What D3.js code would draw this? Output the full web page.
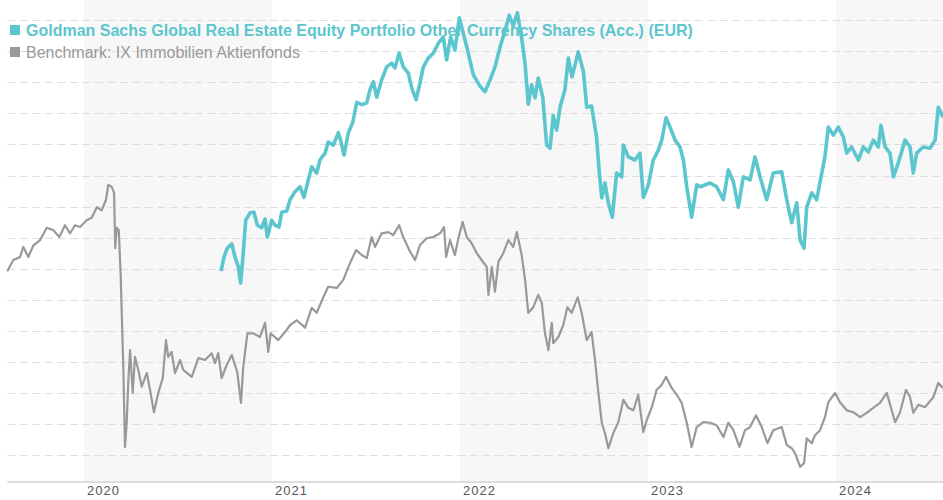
<!DOCTYPE html>
<html lang="de">
<head>
<meta charset="UTF-8">
<title>Goldman Sachs Global Real Estate Equity Portfolio vs Benchmark</title>
<script src="https://d3js.org/d3.v7.min.js"></script>
<style>
  body { margin: 0; background: #fff; font-family: "Liberation Sans", Arial, sans-serif; }
  svg { display: block; }
  .grid line { stroke: #dedede; stroke-dasharray: 8,4.5; }
  .xaxis text { fill: #555; font-size: 13px; letter-spacing: 1px; }
</style>
</head>
<body>
<svg id="chart" width="943" height="500"></svg>
<script>
// decimal years
const benchT = [
  2019.592,2019.624,2019.660,2019.677,2019.704,2019.730,2019.766,2019.802,2019.837,2019.869,2019.899,2019.926,2019.952,2019.979,
  2020.014,2020.041,2020.068,2020.094,2020.117,2020.129,2020.147,2020.160,2020.166,2020.174,2020.185,2020.195,2020.209,2020.218,2020.227,2020.236,2020.245,2020.259,2020.271,2020.289,2020.307,2020.334,2020.351,2020.372,2020.395,2020.419,2020.436,2020.448,2020.466,2020.484,2020.511,2020.528,2020.573,2020.608,2020.644,2020.679,2020.697,2020.714,2020.732,2020.759,2020.786,2020.815,2020.835,2020.847,2020.869,2020.901,2020.936,2020.963,2020.980,2020.993,
  2021.033,2021.069,2021.096,2021.131,2021.166,2021.176,2021.211,2021.238,2021.273,2021.299,2021.344,2021.379,2021.415,2021.447,2021.477,2021.504,2021.530,2021.548,2021.583,2021.619,2021.645,2021.676,2021.698,2021.730,2021.761,2021.787,2021.823,2021.858,2021.894,2021.915,2021.926,2021.947,2021.973,2021.991,
  2022.014,2022.036,2022.062,2022.089,2022.115,2022.142,2022.151,2022.169,2022.186,2022.204,2022.230,2022.257,2022.283,2022.302,2022.328,2022.346,2022.363,2022.390,2022.416,2022.435,2022.452,2022.470,2022.488,2022.496,2022.523,2022.549,2022.571,2022.594,2022.626,2022.647,2022.674,2022.700,2022.718,2022.736,2022.754,2022.771,2022.789,2022.815,2022.842,2022.869,2022.895,2022.922,2022.948,2022.975,2022.993,
  2023.020,2023.046,2023.073,2023.096,2023.126,2023.153,2023.179,2023.206,2023.232,2023.259,2023.294,2023.330,2023.365,2023.401,2023.427,2023.454,2023.486,2023.516,2023.543,2023.574,2023.605,2023.635,2023.666,2023.711,2023.738,2023.764,2023.782,2023.809,2023.830,2023.844,2023.871,2023.888,2023.915,2023.941,2023.959,2023.995,
  2024.021,2024.057,2024.092,2024.128,2024.163,2024.198,2024.234,2024.270,2024.296,2024.314,2024.340,2024.372,2024.394,2024.411,2024.438,2024.473,2024.517,2024.544,2024.569
];
const benchV = [
  109.6,111.4,111.9,113.5,111.9,113.7,114.6,116.6,116.2,115.1,117.0,115.7,117.0,116.7,
  117.8,118.2,119.9,119.4,121.1,123.5,123.2,122.2,113.3,116.6,116.2,109.0,94.2,81.3,85.2,92.1,96.9,90.0,95.8,93.7,91.0,93.2,90.5,86.9,90.0,92.4,98.5,95.8,96.6,93.2,95.3,93.7,92.6,95.6,95.3,96.4,94.8,96.4,92.4,94.5,96.1,93.4,88.4,94.2,99.6,99.6,99.0,101.3,96.6,99.6,
  98.5,99.8,100.9,101.7,100.8,100.5,103.7,102.9,105.4,107.1,106.9,108.2,110.9,113.0,112.2,111.7,115.1,113.5,115.7,115.9,115.4,117.0,115.1,113.0,111.4,113.8,114.9,115.1,115.7,116.7,111.9,114.6,112.2,114.9,
  117.5,115.1,114.1,112.5,111.4,110.3,105.8,110.3,106.3,111.1,112.5,114.6,113.5,115.9,112.2,108.2,102.9,103.8,105.8,104.5,99.6,96.9,101.3,98.0,99.0,100.9,103.8,102.9,105.4,102.9,98.5,99.8,95.3,90.0,85.2,83.5,81.1,83.5,85.3,88.9,87.6,87.2,89.7,83.7,85.6,
  87.7,90.5,91.3,92.6,90.8,89.7,88.4,85.2,81.3,84.5,85.3,85.2,84.8,82.9,85.2,84.0,81.3,84.0,84.5,86.4,84.5,81.9,84.0,84.5,81.6,81.1,80.3,78.1,78.7,82.7,81.9,83.2,84.0,86.1,88.5,90.0,
  88.5,87.2,86.9,86.1,86.8,87.6,88.4,90.0,87.2,85.3,86.8,90.5,89.3,86.8,88.1,87.7,89.3,91.6,90.8
];

const fundT = [
  2020.729,2020.745,2020.762,2020.786,2020.803,2020.821,2020.833,2020.847,2020.860,2020.883,2020.904,2020.922,2020.945,2020.963,2020.975,2020.998,
  2021.016,2021.037,2021.052,2021.078,2021.096,2021.122,2021.149,2021.170,2021.193,2021.211,2021.238,2021.255,2021.282,2021.299,2021.326,2021.353,2021.365,2021.383,2021.406,2021.429,2021.451,2021.477,2021.504,2021.521,2021.539,2021.557,2021.583,2021.610,2021.637,2021.654,2021.676,2021.698,2021.725,2021.743,2021.766,2021.787,2021.805,2021.831,2021.858,2021.885,2021.911,2021.929,2021.950,2021.973,2021.996,
  2022.036,2022.071,2022.106,2022.133,2022.160,2022.186,2022.213,2022.239,2022.262,2022.283,2022.305,2022.328,2022.346,2022.363,2022.381,2022.399,2022.416,2022.440,2022.461,2022.479,2022.496,2022.514,2022.532,2022.558,2022.576,2022.596,2022.629,2022.656,2022.674,2022.700,2022.727,2022.741,2022.754,2022.771,2022.789,2022.810,2022.833,2022.860,2022.869,2022.895,2022.931,2022.957,2022.975,
  2023.002,2023.028,2023.055,2023.073,2023.096,2023.117,2023.144,2023.170,2023.188,2023.206,2023.232,2023.259,2023.277,2023.330,2023.365,2023.401,2023.427,2023.454,2023.480,2023.507,2023.543,2023.569,2023.596,2023.631,2023.666,2023.711,2023.738,2023.764,2023.791,2023.809,2023.830,2023.844,2023.871,2023.897,2023.924,2023.941,2023.959,2023.986,
  2024.012,2024.039,2024.057,2024.083,2024.119,2024.145,2024.172,2024.198,2024.225,2024.239,2024.261,2024.287,2024.305,2024.331,2024.367,2024.394,2024.411,2024.429,2024.464,2024.500,2024.527,2024.544,2024.569
];
const fundV = [
  109.6,111.9,113.3,114.0,111.9,110.3,107.7,112.5,117.8,119.0,119.1,117.0,116.6,118.0,115.1,117.8,
  117.0,116.7,119.1,119.3,121.1,122.4,123.2,121.5,124.3,126.4,125.4,127.5,128.6,130.4,129.9,131.9,130.7,128.3,131.9,133.5,136.8,136.4,136.7,138.8,140.1,137.6,140.4,142.5,143.1,142.3,144.7,142.5,141.5,139.1,137.2,139.9,142.5,143.9,144.7,146.3,147.3,143.6,147.3,145.2,150.4,
  145.7,141.2,139.4,138.5,140.4,142.5,145.7,148.3,150.8,149.1,151.2,147.1,143.0,136.5,139.6,137.5,140.7,137.6,129.9,129.4,134.7,132.3,136.0,138.8,143.9,140.9,144.9,141.8,136.0,136.2,131.0,125.4,121.4,123.8,120.6,118.3,125.4,124.8,129.9,128.0,127.5,128.6,121.5,
  123.5,127.5,129.1,130.7,134.3,132.8,130.7,129.6,127.5,123.2,118.3,123.5,123.2,123.8,123.2,121.1,125.9,124.0,119.9,124.8,124.3,128.0,124.8,121.1,125.4,125.6,121.1,117.4,120.6,114.6,113.3,119.9,122.2,121.1,125.4,128.0,132.8,131.5,
  132.8,131.2,128.6,129.6,127.5,129.6,128.8,130.7,129.6,133.1,129.6,128.6,124.8,127.0,130.7,129.6,125.4,128.6,129.6,129.4,130.7,136.0,134.4
];

const years = [2020, 2021, 2022, 2023, 2024];
const seriesNames = [
  "Goldman Sachs Global Real Estate Equity Portfolio Other Currency Shares (Acc.) (EUR)",
  "Benchmark: IX Immobilien Aktienfonds"
];
const colors = ["#5bc6cd", "#999999"];

const svg = d3.select("#chart");
const plotLeft = 7.3, plotRight = 943, plotTop = 0, plotBottom = 482;

const x = d3.scaleLinear().domain([benchT[0], benchT[benchT.length - 1]]).range([plotLeft, plotRight]);
const y = d3.scaleLinear().domain([75.66, 153.26]).range([plotBottom, plotTop]);

// alternating year bands
svg.append("g").selectAll("rect")
  .data(years.filter((d, i) => i % 2 === 0))
  .join("rect")
  .attr("x", d => x(d))
  .attr("y", plotTop)
  .attr("width", d => Math.min(x(d + 1), plotRight) - x(d))
  .attr("height", plotBottom - plotTop)
  .attr("fill", "#f7f7f7");

// dashed grid
svg.append("g").attr("class", "grid")
  .selectAll("line")
  .data(y.ticks(15))
  .join("line")
  .attr("x1", plotLeft).attr("x2", plotRight)
  .attr("y1", d => Math.round(y(d)) + 0.5)
  .attr("y2", d => Math.round(y(d)) + 0.5);

// x axis
svg.append("line")
  .attr("x1", plotLeft).attr("x2", plotRight)
  .attr("y1", plotBottom).attr("y2", plotBottom)
  .attr("stroke", "#dcdcdc").attr("stroke-width", 2);

svg.append("g").attr("class", "xaxis")
  .selectAll("text")
  .data(years)
  .join("text")
  .attr("x", d => x(d) + 3)
  .attr("y", 495)
  .text(d => d);

const line = d3.line().x(d => x(d[0])).y(d => y(d[1]));

svg.append("path")
  .datum(d3.zip(benchT, benchV))
  .attr("d", line)
  .attr("fill", "none")
  .attr("stroke", colors[1])
  .attr("stroke-width", 2.2)
  .attr("stroke-linejoin", "round");

// legend
const legend = svg.append("g");
seriesNames.forEach((name, i) => {
  const ly = 30 + i * 22;
  legend.append("rect")
    .attr("x", 10).attr("y", ly - 5).attr("width", 10).attr("height", 10)
    .attr("fill", colors[i]);
  legend.append("text")
    .attr("x", 26).attr("y", ly + 6)
    .attr("fill", colors[i])
    .attr("font-size", 16)
    .attr("font-weight", i === 0 ? "bold" : "normal")
    .text(name);
});

svg.append("path")
  .datum(d3.zip(fundT, fundV))
  .attr("d", line)
  .attr("fill", "none")
  .attr("stroke", colors[0])
  .attr("stroke-width", 3.6)
  .attr("stroke-linejoin", "round");
</script>
</body>
</html>
